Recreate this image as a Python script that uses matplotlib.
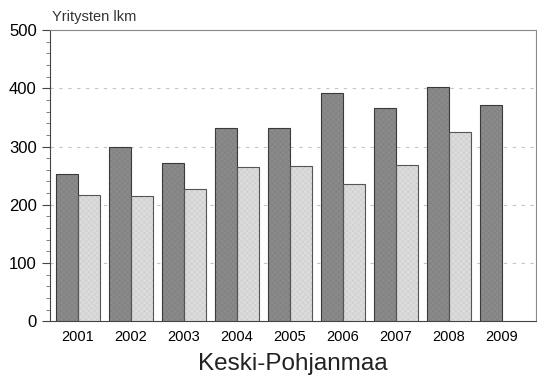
import matplotlib
matplotlib.use("Agg")
import matplotlib.pyplot as plt
import numpy as np

years = ["2001", "2002", "2003", "2004", "2005", "2006", "2007", "2008", "2009"]
dark_vals = [252, 299, 271, 332, 332, 392, 366, 402, 371]
light_vals = [216, 215, 227, 265, 266, 235, 268, 325]

plt.rcParams['font.family'] = ['Liberation Sans', 'DejaVu Sans']
plt.rcParams['hatch.linewidth'] = 0.25

fig = plt.figure(figsize=(5.37, 3.81), dpi=100)
ax = fig.add_axes([0.093, 0.157, 0.905, 0.764])

x = np.arange(len(years))
w = 0.42
# fill with fine texture, then outline
ax.bar(x - w / 2, dark_vals, w, color='#8a8a8a', edgecolor='#7a7a7a',
       linewidth=0, hatch='xxxxxx', zorder=3)
ax.bar(x - w / 2, dark_vals, w, fill=False, edgecolor='#3a3a3a',
       linewidth=0.8, zorder=4)
ax.bar(x[:len(light_vals)] + w / 2, light_vals, w, color='#dcdcdc',
       edgecolor='#c4c4c4', linewidth=0, hatch='xxxxxx', zorder=3)
ax.bar(x[:len(light_vals)] + w / 2, light_vals, w, fill=False,
       edgecolor='#555555', linewidth=0.8, zorder=4)

for y in [100, 200, 300, 400]:
    ax.axhline(y, color='#c4c4c4', linestyle=(0, (3, 5)), linewidth=0.8, zorder=1)

ax.set_xlim(-0.53, 8.64)
ax.set_ylim(0, 500)
ax.set_yticks([0, 100, 200, 300, 400, 500])
ax.set_yticks(np.arange(0, 501, 20), minor=True)
ax.set_xticks(x)
ax.set_xticklabels(years)
ax.tick_params(axis='y', which='major', length=6, labelsize=12, color='#444444')
ax.tick_params(axis='y', which='minor', length=3, color='#666666')
ax.tick_params(axis='x', length=0, labelsize=10.5, pad=6)

for s in ['left', 'bottom']:
    ax.spines[s].set_color('#444444')
for s in ['top', 'right']:
    ax.spines[s].set_color('#888888')

fig.text(0.097, 0.945, "Yritysten lkm", fontsize=10.5, color='#333333')
fig.text(0.546, 0.03, "Keski-Pohjanmaa", fontsize=17.5, ha='center', color='#222222')

fig.savefig("out.png", dpi=100)
